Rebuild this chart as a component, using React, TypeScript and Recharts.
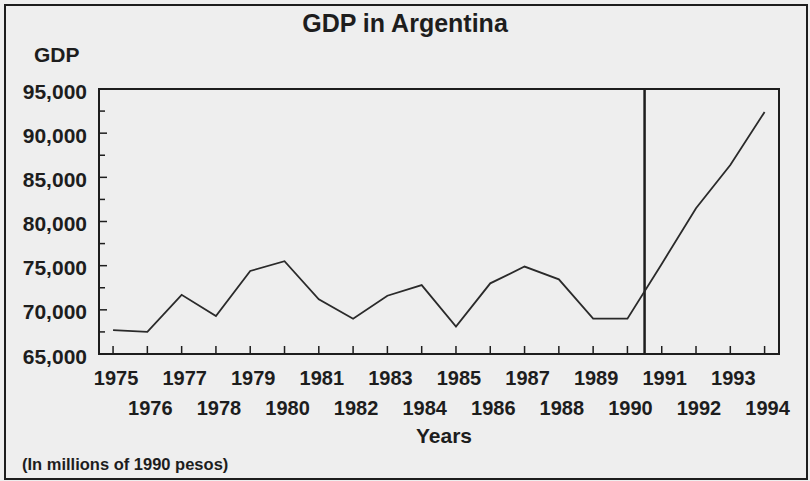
import React from "react";
import {
  LineChart,
  Line,
  XAxis,
  YAxis,
  ReferenceLine,
  ReferenceArea,
} from "recharts";

const years = [
  1975, 1976, 1977, 1978, 1979, 1980, 1981, 1982, 1983, 1984,
  1985, 1986, 1987, 1988, 1989, 1990, 1991, 1992, 1993, 1994,
];
const gdp = [
  67700, 67500, 71700, 69300, 74400, 75500, 71200, 69000, 71600, 72800,
  68100, 73000, 74900, 73450, 69000, 69000, 75200, 81500, 86400, 92400,
];
const yTicks = [
  65000, 67500, 70000, 72500, 75000, 77500, 80000, 82500, 85000, 87500,
  90000, 92500, 95000,
];
const dividerYear = 1990.5;

const data = years.map((year, i) => ({ year, gdp: gdp[i] }));

const ink = "#1d1d1d";
const font = "'Liberation Sans', Arial, sans-serif";
const xDomain: [number, number] = [1974.59, 1994.42];
const yDomain: [number, number] = [65000, 95000];

function YearTick(props: any) {
  const { x, y, payload } = props;
  const year = payload.value as number;
  const odd = year % 2 === 1;
  return (
    <g>
      <line x1={x} x2={x} y1={y - 8} y2={y} stroke={ink} strokeWidth={1.5} />
      <text
        x={x + 3}
        y={y + (odd ? 24 : 54)}
        textAnchor="middle"
        dominantBaseline="central"
        fontFamily={font}
        fontWeight="bold"
        fontSize={20}
        fill={ink}
      >
        {year}
      </text>
    </g>
  );
}

function GdpTick(props: any) {
  const { x, y, payload } = props;
  const v = payload.value as number;
  const major = v % 5000 === 0;
  return (
    <g>
      <line x1={x} x2={x + (major ? 8 : 6)} y1={y} y2={y} stroke={ink} strokeWidth={1.5} />
      {major && (
        <text
          x={x - 12}
          y={y + 2}
          textAnchor="end"
          dominantBaseline="central"
          fontFamily={font}
          fontWeight="bold"
          fontSize={21}
          fill={ink}
        >
          {v.toLocaleString("en-US")}
        </text>
      )}
    </g>
  );
}

export default function App() {
  return (
    <div
      style={{
        position: "absolute",
        left: 0,
        top: 0,
        width: 810,
        height: 481,
        background: "#eeeeee",
        fontFamily: font,
        color: ink,
      }}
    >
      <div
        style={{
          position: "absolute",
          left: 4,
          top: 4,
          width: 800,
          height: 472,
          border: `2px solid ${ink}`,
        }}
      />
      <div
        style={{
          position: "absolute",
          left: 0,
          width: 810,
          top: 9,
          textAlign: "center",
          fontWeight: "bold",
          fontSize: 25,
        }}
      >
        GDP in Argentina
      </div>
      <div
        style={{
          position: "absolute",
          left: 34,
          top: 43,
          fontWeight: "bold",
          fontSize: 21,
        }}
      >
        GDP
      </div>
      <div
        style={{
          position: "absolute",
          left: 0,
          width: 888,
          top: 424,
          textAlign: "center",
          fontWeight: "bold",
          fontSize: 21,
        }}
      >
        Years
      </div>
      <div
        style={{
          position: "absolute",
          left: 22,
          top: 455,
          fontWeight: "bold",
          fontSize: 16.5,
        }}
      >
        (In millions of 1990 pesos)
      </div>
      <div style={{ position: "absolute", left: 0, top: 0 }}>
        <LineChart
          width={810}
          height={481}
          data={data}
          margin={{ top: 89, right: 31, bottom: 57, left: 9 }}
        >
          <XAxis
            dataKey="year"
            type="number"
            domain={xDomain}
            ticks={years}
            interval={0}
            height={70}
            tickSize={0}
            tickMargin={0}
            tickLine={false}
            tick={<YearTick />}
            axisLine={{ stroke: ink, strokeWidth: 2 }}
            allowDataOverflow
          />
          <YAxis
            type="number"
            domain={yDomain}
            ticks={yTicks}
            interval={0}
            width={90}
            tickSize={0}
            tickMargin={0}
            tickLine={false}
            tick={<GdpTick />}
            axisLine={{ stroke: ink, strokeWidth: 2 }}
            allowDataOverflow
          />
          <ReferenceArea
            x1={xDomain[0]}
            x2={xDomain[1]}
            y1={yDomain[0]}
            y2={yDomain[1]}
            fill="none"
            fillOpacity={0}
            stroke={ink}
            strokeWidth={2}
            ifOverflow="extendDomain"
          />
          <ReferenceLine x={dividerYear} stroke={ink} strokeWidth={2.5} />
          <Line
            type="linear"
            dataKey="gdp"
            stroke="#2a2a2a"
            strokeWidth={1.8}
            dot={false}
            activeDot={false}
            isAnimationActive={false}
          />
        </LineChart>
      </div>
    </div>
  );
}
